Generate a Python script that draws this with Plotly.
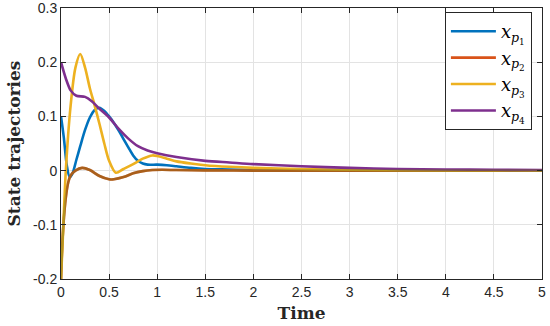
import plotly.graph_objects as go

t_p1 = [0, 0.03, 0.06, 0.09, 0.12, 0.16, 0.2, 0.25, 0.3, 0.35, 0.4, 0.45, 0.5, 0.55, 0.6, 0.65, 0.7, 0.75, 0.8, 0.85, 0.9, 1.0, 1.1, 1.2, 1.35, 1.5, 1.75, 2.0, 2.5, 3.0, 4.0, 5.0]
x_p1 = [0.1, 0.06, 0.01, -0.012, -0.005, 0.02, 0.045, 0.075, 0.098, 0.112, 0.116, 0.11, 0.1, 0.088, 0.074, 0.058, 0.043, 0.028, 0.018, 0.013, 0.011, 0.011, 0.01, 0.008, 0.005, 0.003, 0.002, 0.001, 0.0005, 0.0002, 0.0, 0.0]

t_p2 = [0, 0.01, 0.025, 0.05, 0.075, 0.1, 0.15, 0.22, 0.3, 0.4, 0.5, 0.55, 0.65, 0.75, 0.85, 0.95, 1.05, 1.2, 1.5, 2.0, 3.0, 5.0]
x_p2 = [-0.2, -0.15, -0.1, -0.05, -0.022, -0.009, 0.0, 0.005, 0.001, -0.01, -0.016, -0.016, -0.012, -0.005, -0.001, 0.001, 0.0015, 0.001, 0.0005, 0.0, 0.0, 0.0]

t_p3 = [0, 0.02, 0.05, 0.1, 0.15, 0.2, 0.25, 0.3, 0.35, 0.4, 0.45, 0.5, 0.57, 0.65, 0.75, 0.85, 0.95, 1.0, 1.1, 1.2, 1.35, 1.5, 1.75, 2.0, 2.5, 3.0, 4.0, 5.0]
x_p3 = [-0.2, -0.12, 0.0, 0.12, 0.19, 0.215, 0.19, 0.152, 0.12, 0.086, 0.05, 0.018, -0.004, 0.003, 0.012, 0.022, 0.028, 0.027, 0.022, 0.017, 0.013, 0.01, 0.007, 0.005, 0.003, 0.0015, 0.0005, 0.0]

t_p4 = [0, 0.05, 0.1, 0.16, 0.25, 0.32, 0.4, 0.5, 0.6, 0.7, 0.8, 0.9, 1.0, 1.2, 1.5, 1.75, 2.0, 2.5, 3.0, 3.5, 4.0, 4.5, 5.0]
x_p4 = [0.2, 0.17, 0.148, 0.138, 0.136, 0.128, 0.114, 0.098, 0.077, 0.059, 0.045, 0.037, 0.032, 0.025, 0.018, 0.015, 0.012, 0.008, 0.005, 0.003, 0.002, 0.0015, 0.001]

x_ticks = [0, 0.5, 1, 1.5, 2, 2.5, 3, 3.5, 4, 4.5, 5]
x_tick_labels = ["0", "0.5", "1", "1.5", "2", "2.5", "3", "3.5", "4", "4.5", "5"]
y_ticks = [-0.2, -0.1, 0, 0.1, 0.2, 0.3]
y_tick_labels = ["-0.2", "-0.1", "0", "0.1", "0.2", "0.3"]

names = ["<i>x</i><sub><i>p</i><sub>1</sub></sub>", "<i>x</i><sub><i>p</i><sub>2</sub></sub>",
         "<i>x</i><sub><i>p</i><sub>3</sub></sub>", "<i>x</i><sub><i>p</i><sub>4</sub></sub>"]
colors = ["#0072BD", "#D95319", "#EDB120", "#7E2F8E"]

fig = go.Figure()
series = [(t_p1, x_p1), (t_p2, x_p2), (t_p3, x_p3), (t_p4, x_p4)]
for (t, v), n, c in zip(series, names, colors):
    fig.add_trace(go.Scatter(x=t, y=v, mode="lines", name=n,
                             line=dict(color=c, width=2.6, shape="spline", smoothing=0.8)))
# darker overlay matching the brownish look of x_p2 in the figure
fig.add_trace(go.Scatter(x=t_p2, y=x_p2, mode="lines", showlegend=False, hoverinfo="skip",
                         line=dict(color="rgba(110,110,30,0.45)", width=2.6, shape="spline", smoothing=0.8)))

axis_common = dict(showgrid=True, gridcolor="#e3e3e3", gridwidth=1, zeroline=False,
                   showline=True, linecolor="#262626", linewidth=1, mirror="ticks",
                   ticks="inside", ticklen=5, tickcolor="#262626", ticklabeloverflow="allow",
                   tickfont=dict(family="Liberation Sans, Arial", size=14, color="#262626"))

fig.update_xaxes(range=[0, 5], tickvals=x_ticks, ticktext=x_tick_labels,
                 title=dict(text="<b>Time</b>", font=dict(family="DejaVu Serif, serif", size=17, color="#262626"), standoff=8),
                 **axis_common)
fig.update_yaxes(range=[-0.2, 0.3], tickvals=y_ticks, ticktext=y_tick_labels,
                 title=dict(text="<b>State trajectories</b>", font=dict(family="DejaVu Serif, serif", size=17, color="#262626"), standoff=8),
                 **axis_common)

fig.update_layout(width=550, height=326, plot_bgcolor="white", paper_bgcolor="white",
                  margin=dict(l=61, r=8, t=8, b=47, autoexpand=False),
                  legend=dict(x=0.979, y=0.985, xanchor="right", yanchor="top",
                              bgcolor="white", bordercolor="#262626", borderwidth=1,
                              font=dict(family="DejaVu Serif, serif", size=18, color="black"),
                              tracegroupgap=0, itemwidth=45))

fig.write_html("out.html", config={"displayModeBar": False},
               post_script="document.body.style.margin='0';")
